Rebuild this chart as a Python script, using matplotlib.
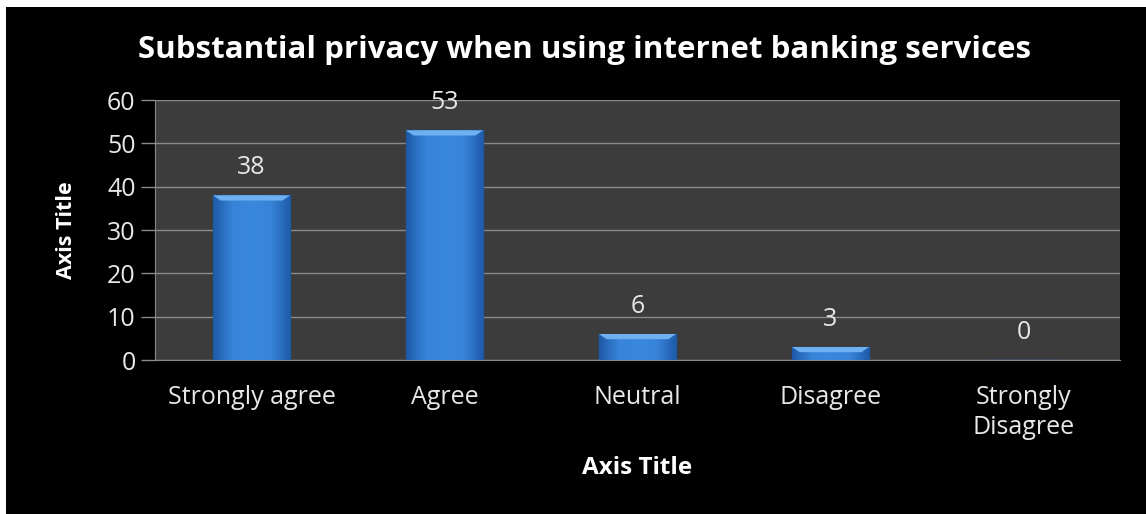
import numpy as np
import matplotlib.pyplot as plt
from matplotlib.patches import Rectangle
from matplotlib.colors import LinearSegmentedColormap

responses = ["Strongly agree", "Agree", "Neutral", "Disagree", "Strongly\nDisagree"]
counts = [38, 53, 6, 3, 0]
y_ticks = [0, 10, 20, 30, 40, 50, 60]

W, H = 1146, 514
fig = plt.figure(figsize=(W / 100, H / 100), dpi=100, facecolor="white")

# black chart area inside a thin white margin
fig.patches.append(Rectangle((6 / W, 0), 1 - 6 / W, 1 - 7 / H,
                             transform=fig.transFigure, facecolor="black",
                             edgecolor="none", zorder=-5))

ax = fig.add_axes([155 / W, 1 - 360 / H, (1120 - 155) / W, (360 - 100) / H])
ax.set_facecolor("#3c3c3c")

font = "Open Sans"
x = np.arange(len(responses))
bars = ax.bar(x, counts, width=0.40, color="#3580d4", edgecolor="#1d4f8c",
              linewidth=1.0, zorder=3)

# shaded fill for each bar, darker at the sides
shade = LinearSegmentedColormap.from_list(
    "bar", ["#1f5aa8", "#3784da", "#3a88de", "#3784da", "#1f5aa8"])
grad = np.linspace(0, 1, 64).reshape(1, -1)
for b in bars:
    if b.get_height() <= 0:
        continue
    x0, w, h = b.get_x(), b.get_width(), b.get_height()
    im = ax.imshow(grad, cmap=shade, aspect="auto", zorder=3.5,
                   extent=[x0, x0 + w, 0, h], interpolation="bicubic")
    im.set_clip_path(b)
    # lighter bevel along the top edge
    ax.fill([x0, x0 + w, x0 + w - 0.04, x0 + 0.04],
            [h, h, h - 1.2, h - 1.2], color="#6fb0f0", zorder=4,
            linewidth=0)

for xi, v in zip(x, counts):
    ax.text(xi, v + 6.4, str(v), ha="center", va="center", color="#e8e8e8",
            fontsize=18, family=font, zorder=5)

ax.set_xlim(-0.5, len(responses) - 0.5)
ax.set_ylim(0, 60)
ax.set_yticks(y_ticks)
ax.set_xticks(x)
ax.set_xticklabels(responses, linespacing=1.25)
ax.yaxis.grid(True, color="#8a8a8a", linewidth=1.0, zorder=1)
ax.set_axisbelow(True)

for s in ["top", "right"]:
    ax.spines[s].set_visible(False)
ax.spines["left"].set_color("#8a8a8a")
ax.spines["bottom"].set_color("#8a8a8a")
ax.tick_params(axis="y", length=10, width=1, color="#8a8a8a",
               labelcolor="#e8e8e8", labelsize=18, pad=4)
ax.tick_params(axis="x", length=0, labelcolor="#e8e8e8", labelsize=18, pad=18)
for lab in ax.get_xticklabels() + ax.get_yticklabels():
    lab.set_family(font)

fig.text(67 / W, 1 - 230 / H, "Axis Title", rotation=90, ha="center",
         va="center", fontsize=15.5, fontweight="bold", color="white",
         family=font)
fig.text(637 / W, 1 - 468 / H, "Axis Title", ha="center", va="center",
         fontsize=17.5, fontweight="bold", color="white", family=font)

fig.text(585 / W, 1 - 50 / H,
         "Substantial privacy when using internet banking services",
         ha="center", va="center", color="white", fontsize=22.5,
         fontweight="bold", family=font)

fig.savefig("out.png", dpi=100, facecolor=fig.get_facecolor())
